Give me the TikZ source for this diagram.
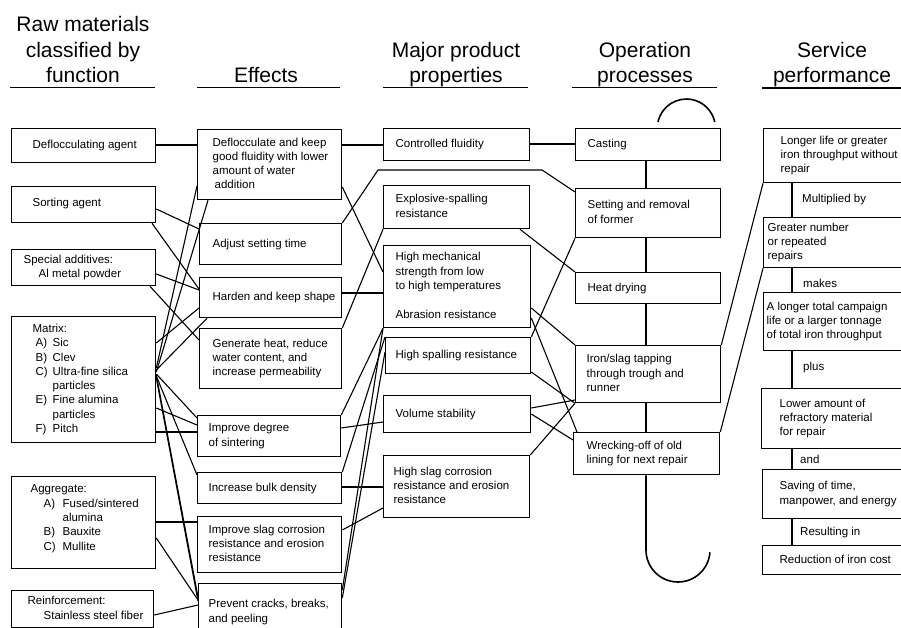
\documentclass[tikz,border=0pt]{standalone}
\usepackage{fontspec}
\setmainfont{Liberation Sans}
% box with its top-left corner at (#2,#3), bottom-right at (#4,#5), text indented by #6
\newcommand\mkbox[7]{%
  \pgfmathsetmacro\bxw{#4-#2}%
  \pgfmathsetmacro\bxh{#5-#3}%
  \pgfmathsetmacro\bxt{#4-#2-2*#6}%
  \node[box, anchor=north west, minimum width=\bxw pt, minimum height=\bxh pt,
        inner xsep=#6pt] (#1) at (#2,#3)
    {\makebox[\bxt pt][l]{\begin{tabular}{@{}l@{}}#7\end{tabular}}};}
\newcommand\itm[1]{\hspace*{3pt}\makebox[17pt][l]{#1}}
\newcommand\agg[1]{\hspace*{13pt}\makebox[19pt][l]{#1}}
\begin{document}
\begin{tikzpicture}[x=1pt,y=-1pt,
  box/.style={draw, line width=1.3pt, inner ysep=0pt, rectangle},
  link/.style={line width=1.1pt},
  spine/.style={line width=1.6pt},
  head/.style={font=\fontsize{21}{25.5}\selectfont, align=center, inner sep=0pt,
               anchor=south, text depth=0pt},
  rule/.style={line width=1.9pt},
  lbl/.style={anchor=west, inner sep=0pt},
  every node/.append style={font=\fontsize{11.5}{14.3}\selectfont}]
\useasboundingbox (0,0) rectangle (901,628);
\clip (0,0) rectangle (901,628);

% ---- column headings
\node[head] (h1) at (83,83) {Raw materials\\classified by\\function};
\node[head] (h2) at (266,83) {Effects};
\node[head] (h3) at (456,83) {Major product\\properties};
\node[head] (h4) at (645,83) {Operation\\processes};
\node[head] (h5) at (832,83) {Service\\performance};
\coordinate (u1a) at (10,87.5);  \coordinate (u1b) at (155,87.5);
\coordinate (u2a) at (197,87.5); \coordinate (u2b) at (340,87.5);
\coordinate (u3a) at (383,87.5); \coordinate (u3b) at (528,87.5);
\coordinate (u4a) at (572,87.5); \coordinate (u4b) at (717,87.5);
\coordinate (u5a) at (762,88);   \coordinate (u5b) at (905,88);
\draw[rule] (u1a) -- (u1b);
\draw[rule] (u2a) -- (u2b);
\draw[rule] (u3a) -- (u3b);
\draw[rule] (u4a) -- (u4b);
\draw[rule] (u5a) -- (u5b);

% ---- raw materials
\mkbox{r1}{11}{128}{155}{162}{21}{Deflocculating agent}
\mkbox{r2}{11}{186}{155}{222}{21}{Sorting agent\\[3pt]}
\mkbox{r3}{11}{249}{155}{285}{12}{Special additives:\\\hspace*{15pt}Al metal powder}
\mkbox{r4}{11}{316}{155}{442}{21}{Matrix:\\\itm{A)}Sic\\\itm{B)}Clev\\
  \itm{C)}Ultra-fine silica\\\hspace*{20pt}particles\\\itm{E)}Fine alumina\\
  \hspace*{20pt}particles\\\itm{F)}Pitch}
\mkbox{r5}{11}{476}{155}{568}{19}{Aggregate:\\\agg{A)}Fused/sintered\\
  \hspace*{32pt}alumina\\\agg{B)}Bauxite\\\agg{C)}Mullite\\[8pt]}
\mkbox{r6}{11}{590}{153}{627}{16}{Reinforcement:\\\hspace*{16pt}Stainless steel fiber}

% ---- effects
\mkbox{e1}{197}{129}{341}{199}{15}{Deflocculate and keep\\good fluidity with lower\\
  amount of water\\\hspace*{2pt}addition}
\mkbox{e2}{199}{223}{341}{264}{13}{Adjust setting time}
\mkbox{e3}{199}{277}{341}{317}{13}{Harden and keep shape}
\mkbox{e4}{199}{328}{341}{388}{13}{Generate heat, reduce\\water content, and\\
  increase permeability}
\mkbox{e5}{197}{415}{340}{456}{11}{Improve degree\\of sintering}
\mkbox{e6}{197}{472}{341}{503}{11}{Increase bulk density}
\mkbox{e7}{197}{516}{341}{572}{11}{Improve slag corrosion\\resistance and erosion\\resistance}
\mkbox{e8}{198}{583}{341}{640}{10}{Prevent cracks, breaks,\\and peeling}

% ---- major product properties
\mkbox{p1}{383}{128}{529}{160}{12}{Controlled fluidity}
\mkbox{p2}{383}{185}{529}{228}{12}{Explosive-spalling\\resistance}
\mkbox{p3}{383}{245}{530}{327}{12}{High mechanical\\strength from low\\
  to high temperatures\\ \\Abrasion resistance}
\mkbox{p4}{385}{337}{530}{373}{10}{High spalling resistance}
\mkbox{p5}{383}{395}{530}{432}{12}{Volume stability}
\mkbox{p6}{383}{455}{529}{517}{10}{High slag corrosion\\resistance and erosion\\resistance}

% ---- operation processes
\mkbox{o1}{575}{128}{720}{160}{12}{Casting}
\mkbox{o2}{575}{188}{720}{237}{12}{Setting and removal\\of former}
\mkbox{o3}{575}{272}{720}{303}{12}{Heat drying}
\mkbox{o4}{575}{345}{720}{402}{11}{Iron/slag tapping\\through trough and\\runner}
\mkbox{o5}{573}{432}{719}{474}{13}{Wrecking-off of old\\lining for next repair}

% ---- service performance
\mkbox{s1}{763}{128}{920}{182}{17}{Longer life or greater\\iron throughput without\\repair}
\mkbox{s2}{763}{217}{920}{267}{4}{Greater number\\or repeated\\repairs}
\mkbox{s3}{763}{292}{920}{350}{3}{A longer total campaign\\life or a larger tonnage\\
  of total iron throughput}
\mkbox{s4}{761}{388}{920}{448}{18}{Lower amount of\\refractory material\\for repair}
\mkbox{s5}{762}{469}{920}{518}{17}{Saving of time,\\manpower, and energy}
\mkbox{s6}{762}{545}{920}{574}{17}{Reduction of iron cost}

% ---- raw materials to effects
\draw[link] (r1.east |- 0,145) -- (e1.west |- 0,145);
\draw[link] (r2.east |- 0,209) -- (e2.west |- 0,229);
\draw[link] (152,0 |- r2.south) -- (e3.west |- 0,289);
\draw[link] (r3.east |- 0,274) -- (e3.west |- 0,290);
\draw[link] (150,0 |- r3.south) -- (e4.west |- 0,340);
\draw[link] (r4.east |- 0,343) -- (e3.west |- 0,308);
\draw[link] (r4.east |- 0,368) -- (e1.west |- 0,186);
\draw[link] (r4.east |- 0,372) -- (208,0 |- e1.south);
\draw[link] (r4.east |- 0,370) -- (207,0 |- e3.south);
\draw[link] (r4.east |- 0,374) -- (e5.west |- 0,418);
\draw[link] (r4.east |- 0,376) -- (e6.west |- 0,475);
\draw[link] (r4.east |- 0,375) -- (e8.west |- 0,597);
\draw[link] (r4.east |- 0,378) -- (e8.west |- 0,601);
\draw[link] (r4.east |- 0,408) -- (e5.west |- 0,425);
\draw[link] (r4.east |- 0,432) -- (e5.west |- 0,432);
\draw[link] (r5.east |- 0,522) -- (e7.west |- 0,522);
\draw[link] (r5.east |- 0,538) -- (e8.west |- 0,600);
\draw[link] (r6.east |- 0,615) -- (e8.west |- 0,605);

% ---- effects to product properties
\draw[link] (e1.east |- 0,145) -- (p1.west |- 0,145);
\draw[link] (e1.east |- 0,187) -- (p3.west |- 0,272);
\draw[link] (e2.north east) -- (378,170) -- (542,170) -- (o2.west |- 0,192);
\draw[link] (e3.east |- 0,293) -- (p3.west |- 0,293);
\draw[link] (e4.north east) -- (p2.south west);
\draw[link] (e5.north east) -- (p3.south west);
\draw[link] (e5.east |- 0,428) -- (p5.west |- 0,422);
\draw[link] (e6.north east) -- (p4.north west);
\draw[link] (e6.east |- 0,487) -- (p6.west |- 0,487);
\draw[link] (e7.east |- 0,530) -- (p6.west |- 0,508);
\draw[link] (e8.east |- 0,590) -- (p3.south west);
\draw[link] (e8.east |- 0,598) -- (p4.west |- 0,352);

% ---- product properties to operation processes
\draw[link] (p1.east |- 0,144) -- (o1.west |- 0,144);
\draw[link] (520,0 |- p2.south) -- (o3.north west);
\draw[link] (p3.east |- 0,308) -- (o4.north west);
\draw[link] (p3.east |- 0,318) -- (577,0 |- o5.north);
\draw[link] (p4.north east) -- (o2.south west);
\draw[link] (p4.east |- 0,372) -- (o4.south west);
\draw[link] (p5.east |- 0,408) -- (o4.west |- 0,400);
\draw[link] (p5.east |- 0,414) -- (o5.west |- 0,440);
\draw[link] (p6.north east) -- (o4.south west);

% ---- operation sequence and trough symbols
\draw[spine] (646,0 |- o1.south) -- (646,0 |- o2.north);
\draw[spine] (646,0 |- o2.south) -- (646,0 |- o3.north);
\draw[spine] (646,0 |- o3.south) -- (646,0 |- o4.north);
\draw[spine] (646,0 |- o4.south) -- (646,0 |- o5.north);
\coordinate (hookbend) at (646,550);
\draw[spine] (646,0 |- o5.south) -- (hookbend) arc[start angle=180, end angle=356, radius=32pt];
\coordinate (capstart) at (658,122);
\draw[spine] (capstart) arc[start angle=168, end angle=12, radius=29pt];

% ---- operation processes to service performance
\draw[link] (o4.north east) -- (s1.south west);
\draw[link] (o5.north east) -- (s2.south west);

% ---- service performance chain
\draw[link] (792,0 |- s1.south) -- (792,0 |- s2.north);
\draw[link] (792,0 |- s2.south) -- (792,0 |- s3.north);
\draw[link] (792,0 |- s3.south) -- (792,0 |- s4.north);
\draw[link] (792,0 |- s4.south) -- (792,0 |- s5.north);
\draw[link] (792,0 |- s5.south) -- (792,0 |- s6.north);
\node[lbl] (l1) at (802,200) {Multiplied by};
\node[lbl] (l2) at (803,283) {makes};
\node[lbl] (l3) at (803,368) {plus};
\node[lbl] (l4) at (800,459) {and};
\node[lbl] (l5) at (800,533) {Resulting in};
\end{tikzpicture}
\end{document}
